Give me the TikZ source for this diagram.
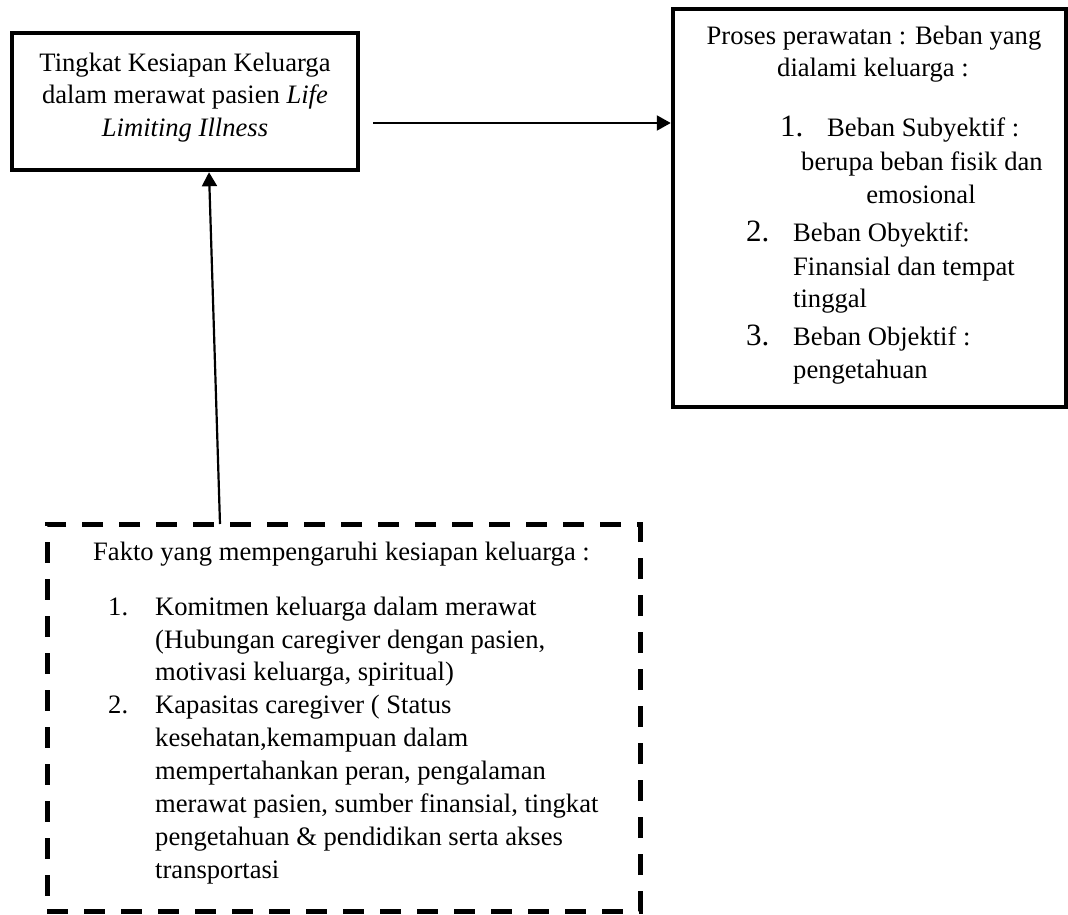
\documentclass[tikz,border=0pt]{standalone}
\usepackage{fontspec}
\setmainfont{Liberation Serif}
\usetikzlibrary{arrows.meta}
\begin{document}
\begin{tikzpicture}[x=1pt,y=-1pt,
  txt/.style={anchor=base west,inner sep=0pt,font=\fontsize{26.6}{33}\selectfont},
  ctxt/.style={anchor=base,inner sep=0pt,font=\fontsize{26.6}{33}\selectfont},
  num/.style={anchor=base west,inner sep=0pt,font=\fontsize{31}{33}\selectfont},
  solidbox/.style={draw,line width=4.5pt,inner sep=0pt},
  dashbox/.style={draw,line width=5pt,dash pattern=on 21pt off 16pt,inner sep=0pt},
  arr/.style={line width=2.2pt,-{Triangle[length=14pt,width=15pt]}}
]
\useasboundingbox (0,0) rectangle (1068,915);

% boxes
\node[solidbox,minimum width=346pt,minimum height=137pt] (ready) at (185,101.5) {};
\node[solidbox,minimum width=393pt,minimum height=398pt] (proc) at (869.5,208) {};
\node[dashbox,minimum width=593pt,minimum height=387pt] (fak) at (343.5,717.5) {};

% box 1 text
\node[ctxt] (r1) at (185,72) {Tingkat Kesiapan Keluarga};
\node[ctxt] (r2) at (185,104) {dalam merawat pasien \textit{Life}};
\node[ctxt] (r3) at (185,136) {\textit{Limiting Illness}};

% box 2 text
\node[ctxt] (p1) at (874,45) {Proses perawatan : Beban yang};
\node[ctxt] (p2) at (873,77) {dialami keluarga :};
\node[num] (pn1) at (780,137) {1.};
\node[txt] (p3) at (827,137) {Beban Subyektif :};
\node[ctxt] (p4) at (922,171) {berupa beban fisik dan};
\node[ctxt] (p5) at (921,203) {emosional};
\node[num] (pn2) at (746,241) {2.};
\node[txt] (p6) at (793,241) {Beban Obyektif:};
\node[txt] (p7) at (793,275) {Finansial dan tempat};
\node[txt] (p8) at (793,307) {tinggal};
\node[num] (pn3) at (746,345) {3.};
\node[txt] (p9) at (793,345) {Beban Objektif :};
\node[txt] (p10) at (793,378) {pengetahuan};

% box 3 text
\node[txt] (f0) at (93,560) {Fakto yang mempengaruhi kesiapan keluarga :};
\node[txt] (fn1) at (108,615) {1.};
\node[txt] (f1) at (155,615) {Komitmen keluarga dalam merawat};
\node[txt] (f2) at (155,648) {(Hubungan caregiver dengan pasien,};
\node[txt] (f3) at (155,680.8) {motivasi keluarga, spiritual)};
\node[txt] (fn2) at (108,713.7) {2.};
\node[txt] (f4) at (155,713.7) {Kapasitas caregiver ( Status};
\node[txt] (f5) at (155,746.6) {kesehatan,kemampuan dalam};
\node[txt] (f6) at (155,779.5) {mempertahankan peran, pengalaman};
\node[txt] (f7) at (155,812.4) {merawat pasien, sumber finansial, tingkat};
\node[txt] (f8) at (155,845.3) {pengetahuan \& pendidikan serta akses};
\node[txt] (f9) at (155,878.2) {transportasi};

% connectors
\coordinate (hs) at (373,123);
\draw[arr] (hs) -- (proc.west |- hs);
\coordinate (vs) at (220,524);
\coordinate (vx) at (209,0);
\draw[arr] (vs) -- (ready.south -| vx);
\end{tikzpicture}
\end{document}
